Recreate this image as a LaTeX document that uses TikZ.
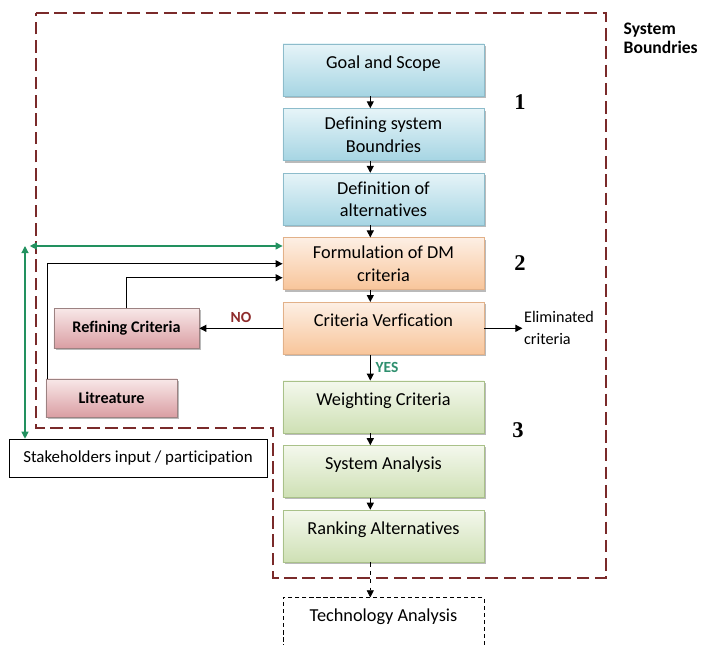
\documentclass[tikz,border=0pt]{standalone}
\usepackage{fontspec}
\setmainfont[Ligatures=NoCommon]{Carlito}
\newfontfamily\numfont{Liberation Serif}
\usetikzlibrary{arrows.meta, positioning, shadows}

\definecolor{bluetop}{HTML}{E6F4F8}
\definecolor{bluebot}{HTML}{A6D5E3}
\definecolor{blueline}{HTML}{8DBCCB}
\definecolor{orangetop}{HTML}{FDEFE4}
\definecolor{orangebot}{HTML}{F8C59A}
\definecolor{orangeline}{HTML}{E2B189}
\definecolor{greentop}{HTML}{F4F8ED}
\definecolor{greenbot}{HTML}{CEE0B4}
\definecolor{greenline}{HTML}{A9C189}
\definecolor{pinktop}{HTML}{F8E8E8}
\definecolor{pinkbot}{HTML}{DA9EA3}
\definecolor{pinkline}{HTML}{9C8282}
\definecolor{bndred}{HTML}{7A2A2A}
\definecolor{linkgreen}{HTML}{22915F}
\definecolor{nored}{HTML}{8E2B2B}
\definecolor{yesgreen}{HTML}{2E8F6E}

\begin{document}
\begin{tikzpicture}[
    x=0.025cm, y=-0.025cm,
    node distance=0.3cm,
    box/.style={rectangle, draw, minimum width=5.03cm, minimum height=1.3cm,
                inner sep=1pt, align=center, font=\fontsize{13}{16}\selectfont,
                drop shadow={shadow xshift=0.05cm, shadow yshift=-0.05cm,
                             fill=black!60, opacity=0.45}},
    oneline/.style={text depth=0.4cm},
    scopebox/.style={box, draw=blueline, top color=bluetop, bottom color=bluebot},
    critbox/.style={box, draw=orangeline, top color=orangetop, bottom color=orangebot},
    evalbox/.style={box, draw=greenline, top color=greentop, bottom color=greenbot},
    sidebox/.style={box, draw=pinkline, top color=pinktop, bottom color=pinkbot,
                    minimum width=3.63cm, minimum height=1cm,
                    font=\fontsize{11.5}{13}\selectfont\bfseries},
    stakebox/.style={rectangle, draw, thin, minimum width=6.45cm, minimum height=0.95cm,
                     font=\fontsize{12}{14}\selectfont},
    techbox/.style={rectangle, draw, densely dashed, thin, minimum width=5.03cm,
                    inner ysep=8pt, text depth=1.6cm, font=\fontsize{13}{16}\selectfont},
    boundary/.style={draw=bndred, line width=1.6pt, dash pattern=on 9pt off 4pt},
    arrow/.style={-{Triangle[length=5pt, width=5pt]}, line width=0.8pt},
    garrow/.style={{Triangle[length=5pt, width=5pt]}-{Triangle[length=5pt, width=5pt]},
                   draw=linkgreen, fill=linkgreen, line width=0.8pt},
    num/.style={font=\numfont\fontsize{16}{16}\selectfont\bfseries},
    note/.style={align=left, inner sep=1pt, font=\fontsize{11.5}{15.5}\selectfont},
    label/.style={font=\fontsize{11}{12}\selectfont\bfseries}
]
\useasboundingbox (0,0) rectangle (703,644);

%% System boundary
\draw[boundary] (36,13) -- (606,13) -- (606,578) -- (273,578) -- (273,428) -- (36,428) -- cycle;
\node[anchor=north west, align=left, inner sep=1pt,
      font=\fontsize{12.5}{14}\selectfont\bfseries] (sysbound) at (622,21) {System\\Boundries};

%% Main chain
\node[scopebox, oneline] (goal) at (383.5,70) {Goal and Scope};
\node[scopebox, below=of goal]   (defsys) {Defining system\\Boundries};
\node[scopebox, below=of defsys] (defalt) {Definition of\\alternatives};
\node[critbox, below=of defalt]  (form)   {Formulation of DM\\criteria};
\node[critbox, oneline, below=of form]   (verif)  {Criteria Verfication};
\node[evalbox, oneline, below=0.65cm of verif] (weight) {Weighting Criteria};
\node[evalbox, oneline, below=of weight] (sysan)  {System Analysis};
\node[evalbox, oneline, below=of sysan]  (rank)   {Ranking Alternatives};
\node[techbox, below=0.875cm of rank]    (tech)   {Technology Analysis};

%% Stage numbers
\node[num] (one)   at (520,102) {1};
\node[num] (two)   at (520,263) {2};
\node[num] (three) at (518,430) {3};

%% Side nodes
\node[sidebox, left=2.08cm of verif] (refine) {Refining Criteria};
\node[sidebox, minimum width=3.28cm, minimum height=0.95cm] (lit) at (111.5,398) {Litreature};
\node[stakebox] (stake) at (138,458) {Stakeholders input / participation};
\node[note, right=0.95cm of verif] (elim) {Eliminated\\criteria};
\coordinate (gtop) at (25,246);

%% Arrows down the chain
\draw[arrow] ([xshift=-0.33cm]goal.south)   -- ([xshift=-0.33cm]defsys.north);
\draw[arrow] ([xshift=-0.33cm]defsys.south) -- ([xshift=-0.33cm]defalt.north);
\draw[arrow] ([xshift=-0.33cm]defalt.south) -- ([xshift=-0.33cm]form.north);
\draw[arrow] ([xshift=-0.33cm]form.south)   -- ([xshift=-0.33cm]verif.north);
\draw[arrow] ([xshift=-0.33cm]verif.south)  -- ([xshift=-0.33cm]weight.north)
    node[midway, right, label, text=yesgreen] {YES};
\draw[arrow] ([xshift=-0.33cm]weight.south) -- ([xshift=-0.33cm]sysan.north);
\draw[arrow] ([xshift=-0.33cm]sysan.south)  -- ([xshift=-0.33cm]rank.north);
\draw[arrow, dashed, thin] ([xshift=-0.33cm]rank.south) -- ([xshift=-0.33cm]tech.north);

%% Verification outcomes
\draw[arrow] (verif.west) -- (verif.west -| refine.east)
    node[midway, above, label, text=nored] {NO};
\draw[arrow] (verif.east) -- (verif.east -| elim.west);

%% Feedback into the criteria
\draw[arrow] (refine.north) |- ([yshift=-0.35cm]form.west);
\draw[arrow] ([xshift=0.05cm]lit.north west) |- (form.west);
\draw[garrow] (stake.north -| gtop) -- (gtop);
\draw[garrow] ([xshift=0.12cm]gtop) -- (gtop -| form.west);

\end{tikzpicture}
\end{document}
